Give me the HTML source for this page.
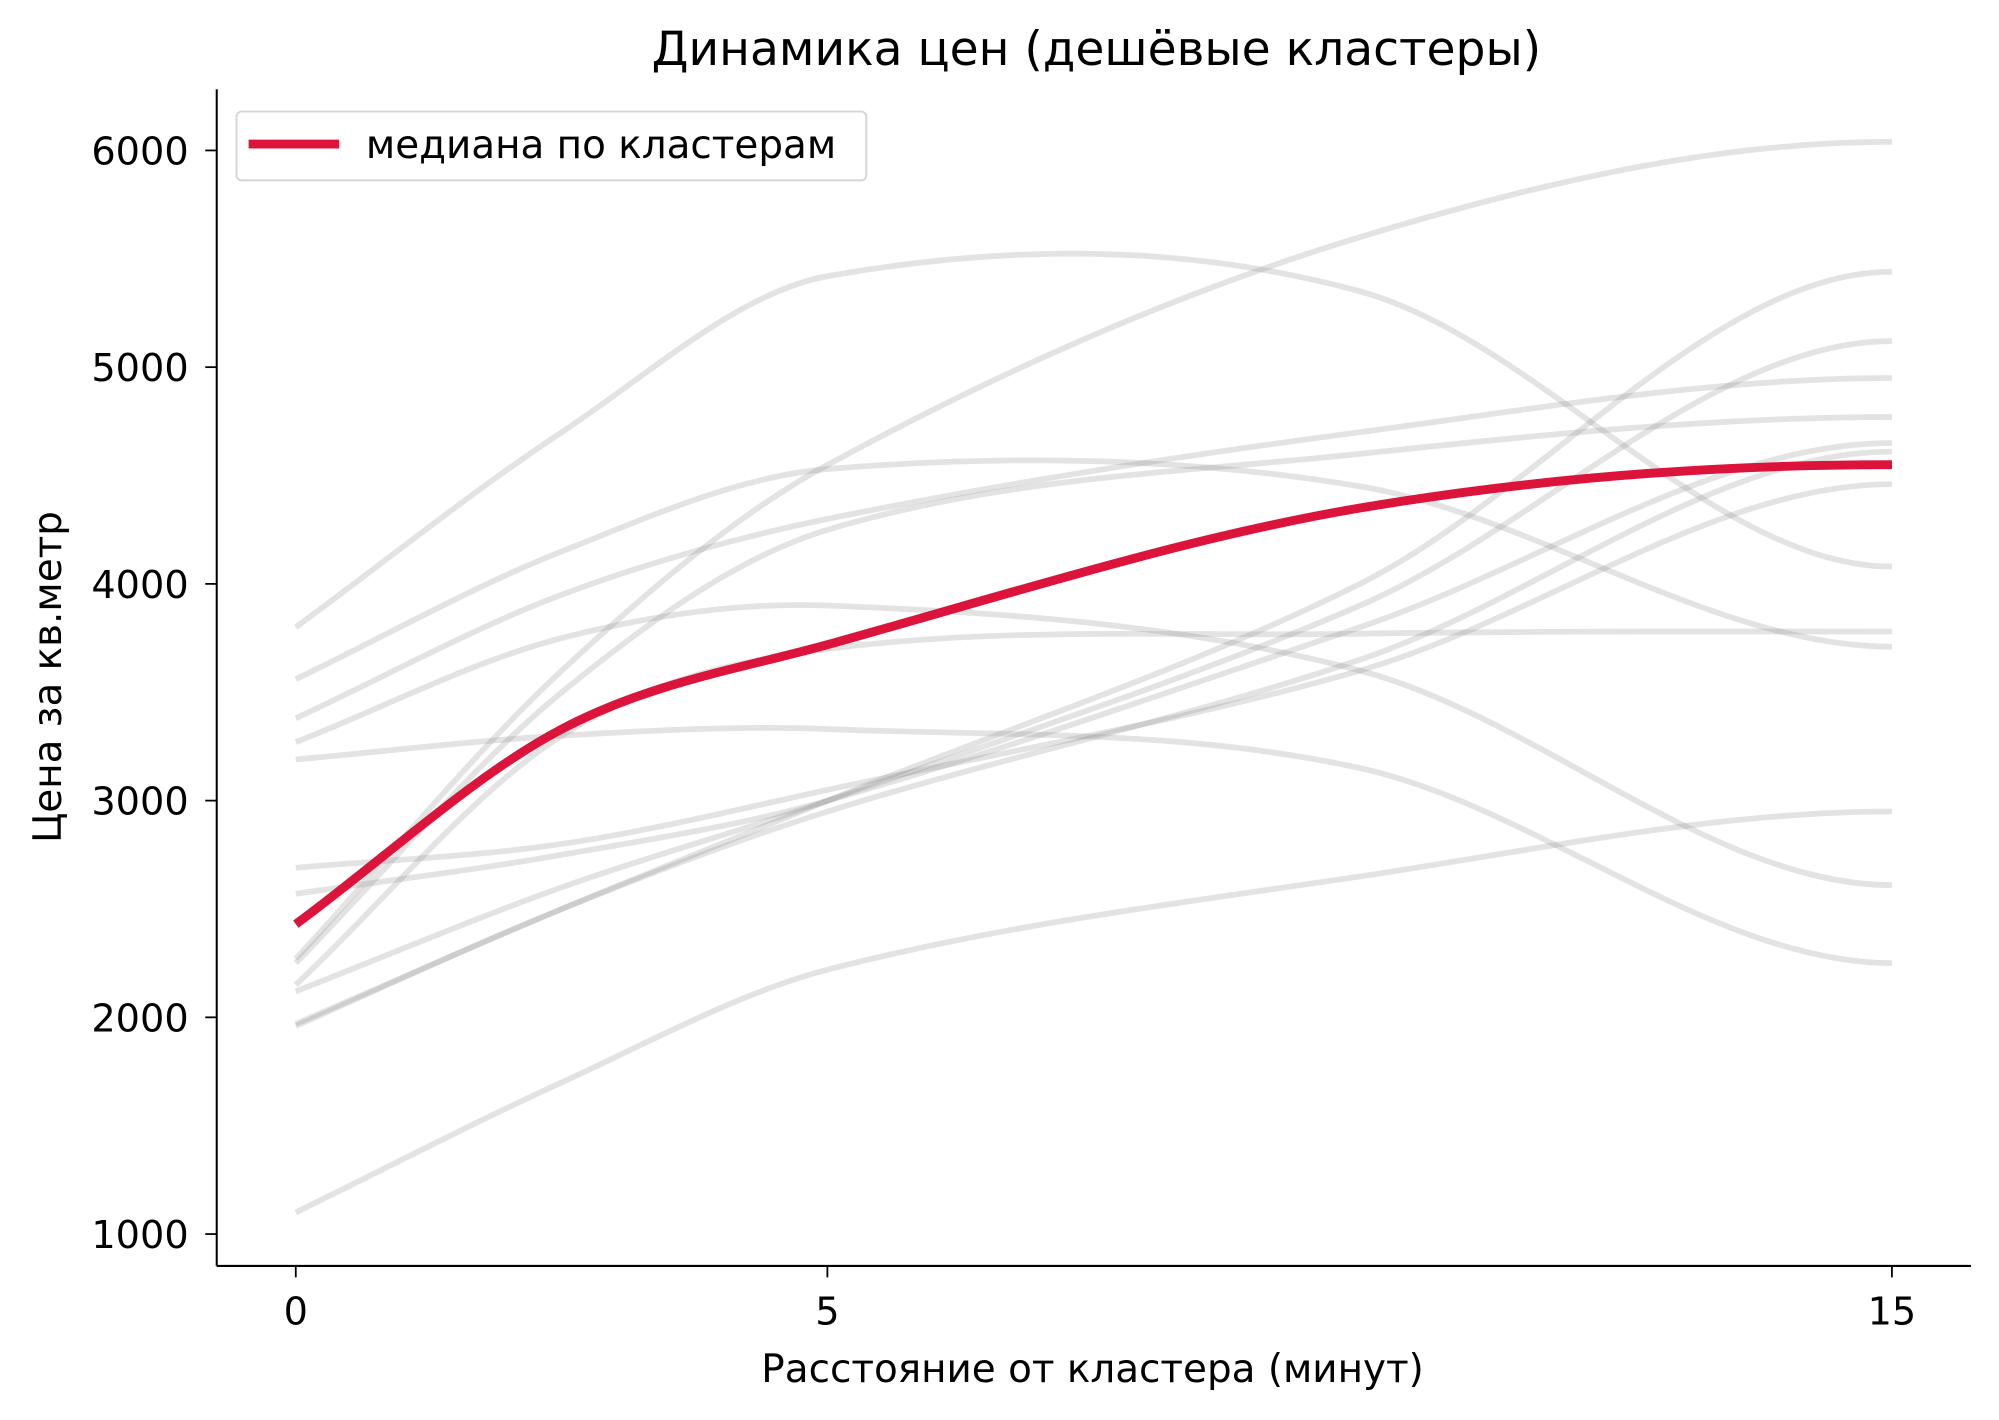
<!DOCTYPE html>
<html><head><meta charset="utf-8"><style>
html,body{margin:0;padding:0;background:#fff;}
svg{display:block;}
text{font-family:"DejaVu Sans","Liberation Sans",sans-serif;fill:#000;}
</style></head><body>
<svg id="s" width="1999" height="1420" viewBox="0 0 1568 1113.85" preserveAspectRatio="none" xmlns="http://www.w3.org/2000/svg">
<rect width="1568" height="1114" fill="#fff"/>
<g id="curves"></g>
<line x1="170" y1="70" x2="170" y2="993" stroke="#000" stroke-width="1.6"/>
<line x1="170" y1="993" x2="1546" y2="993" stroke="#000" stroke-width="1.6"/>
<g stroke="#000" stroke-width="1.4">
<line x1="161" y1="118" x2="170" y2="118"/><line x1="161" y1="288" x2="170" y2="288"/>
<line x1="161" y1="458" x2="170" y2="458"/><line x1="161" y1="628" x2="170" y2="628"/>
<line x1="161" y1="798" x2="170" y2="798"/><line x1="161" y1="968" x2="170" y2="968"/>
<line x1="232" y1="993" x2="232" y2="1002"/><line x1="649" y1="993" x2="649" y2="1002"/><line x1="1484" y1="993" x2="1484" y2="1002"/>
</g>
<g text-anchor="end" font-size="30">
<text x="148" y="129">6000</text>
<text x="148" y="299">5000</text>
<text x="148" y="469">4000</text>
<text x="148" y="639">3000</text>
<text x="148" y="809">2000</text>
<text x="148" y="979">1000</text>
</g>
<g text-anchor="middle">
<text x="232" y="1039" font-size="30">0</text><text x="649" y="1039" font-size="30">5</text><text x="1484" y="1039" font-size="30">15</text>
<text x="857" y="1084" font-size="30.5">Расстояние от кластера (минут)</text>
<text x="860" y="51" font-size="37">Динамика цен (дешёвые кластеры)</text>
<text transform="translate(48,531) rotate(-90)" font-size="30.5">Цена за кв.метр</text>
</g>
<rect x="185.5" y="87.5" width="494" height="54" rx="4" fill="#fff" fill-opacity="0.8" stroke="#d5d5d5" stroke-width="1.5"/>
<line x1="195" y1="113" x2="266" y2="113" stroke="#dc143c" stroke-width="7"/>
<text x="287" y="124" font-size="30.5">медиана по кластерам</text>
</svg>
<script>
var T=[0,2.5,5,10,15];
var G=[
[1100,1700,2220,2650,2950],
[3800,4700,5420,5350,4080],
[3560,4150,4530,4450,3710],
[3380,3950,4300,4700,4950],
[3270,3750,3900,3600,2610],
[3190,3300,3330,3150,2250],
[2250,3500,4250,4600,4770],
[2150,3300,3700,3770,3780],
[2690,2800,3050,3600,4460],
[2570,2750,3000,3800,4650],
[1970,2500,3000,4000,5440],
[2120,2600,3000,3900,5120],
[2270,3600,4550,5600,6040],
[1960,2500,2950,3650,4610]];
var R=[2430,3330,3720,4350,4550];
function X(t){return 232+83.47*t;}function Y(v){return 968-(v-1000)*0.17;}
function path(vs){
 var p=T.map(function(t,i){return [X(t),Y(vs[i])];});
 var d="M"+p[0][0]+","+p[0][1];
 for(var i=0;i<p.length-1;i++){
  var p0=p[i-1]||p[i],p1=p[i],p2=p[i+1],p3=p[i+2]||p[i+1];
  var k=(p2[0]-p1[0]);
  var m1=(p2[1]-p0[1])/(p2[0]-p0[0]),m2=(p3[1]-p1[1])/(p3[0]-p1[0]);
  if(i==p.length-2) m2=0;
  d+=" C"+(p1[0]+k/3)+","+(p1[1]+m1*k/3)+" "+(p2[0]-k/3)+","+(p2[1]-m2*k/3)+" "+p2[0]+","+p2[1];
 }
 return d;}
var g=document.getElementById("curves"),h="";
G.forEach(function(v){h+='<path d="'+path(v)+'" fill="none" stroke="#808080" stroke-opacity="0.22" stroke-width="4.5"/>';});
h+='<path d="'+path(R)+'" fill="none" stroke="#dc143c" stroke-width="7"/>';
g.innerHTML=h;
</script>
</body></html>
